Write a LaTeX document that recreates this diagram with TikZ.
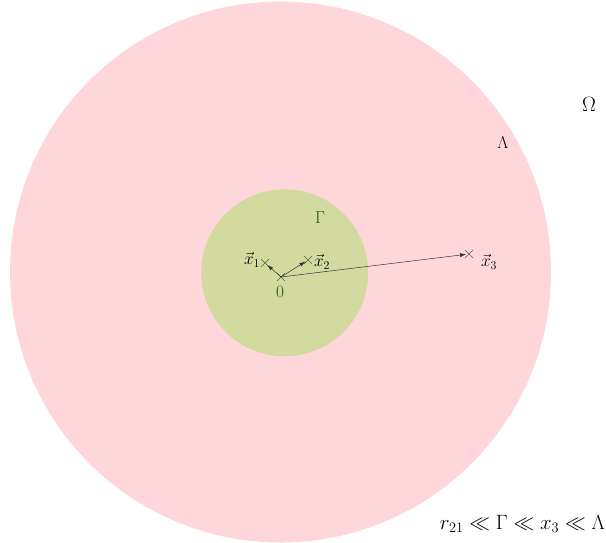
\documentclass[tikz,border=0pt]{standalone}
\usetikzlibrary{shapes.misc,arrows.meta}
\definecolor{pinkfill}{RGB}{255,215,218}
\definecolor{greenfill}{RGB}{210,218,160}
\definecolor{darkgreen}{RGB}{40,85,20}
\definecolor{crosscol}{RGB}{85,100,60}
\begin{document}
\begin{tikzpicture}[x=1pt,y=-1pt,
  pt/.style={cross out,draw=crosscol,line width=0.5pt,minimum size=7.5pt,inner sep=0pt},
  vec/.style={-{Latex[length=6pt,width=4pt]},line width=0.5pt,draw=black!80,shorten >=3pt},
  lab/.style={font=\fontsize{18}{20}\selectfont,inner sep=0pt}]
\useasboundingbox (0,0) rectangle (606,542);
\fill[pinkfill] (280.5,272) circle (270.5pt);
\fill[greenfill] (284.7,272.8) circle (83.5pt);
\node[pt] (o) at (281,277) {};
\node[pt] (x1) at (265,263) {};
\node[pt] (x2) at (308,260) {};
\node[pt] (x3) at (469,254) {};
\draw[vec] (o.center) -- (x1.center);
\draw[vec] (o.center) -- (x2.center);
\draw[vec] (o.center) -- (x3.center);
\node[lab] (l1) at (252,260) {$\vec{x}_1$};
\node[lab] (l2) at (322,262) {$\vec{x}_2$};
\node[lab] (l3) at (489,262) {$\vec{x}_3$};
\node[lab,text=darkgreen] (l0) at (280,292) {$0$};
\node[lab,text=darkgreen] (g) at (320,218) {$\Gamma$};
\node[lab] (lam) at (503,143) {$\Lambda$};
\node[lab,font=\fontsize{22}{24}\selectfont] (om) at (589,104) {$\Omega$};
\node[lab,anchor=east,font=\fontsize{19.5}{22}\selectfont] (rel) at (605,524) {$r_{21}\ll\Gamma\ll x_3\ll\Lambda$};
\end{tikzpicture}
\end{document}
